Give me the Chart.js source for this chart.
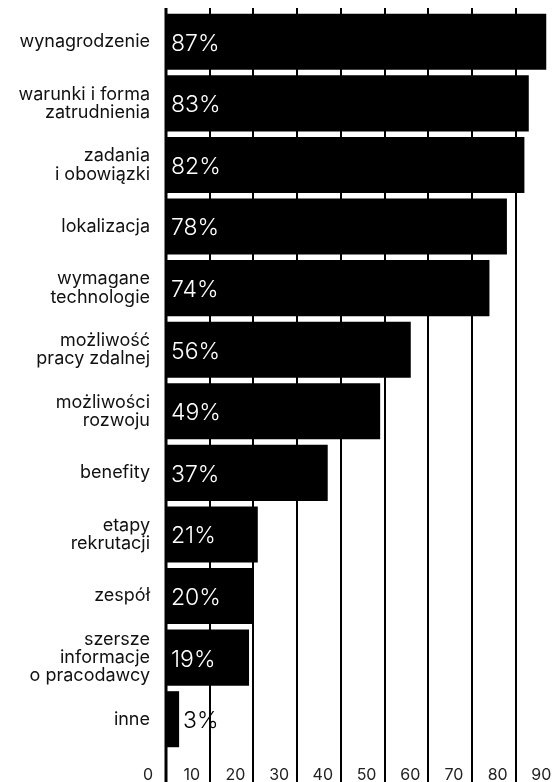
<!DOCTYPE html>
<html>
<head>
<meta charset="utf-8">
<script src="https://cdn.jsdelivr.net/npm/chart.js@4.4.0/dist/chart.umd.min.js"></script>
<style>
  html, body { margin: 0; padding: 0; background: #fff; }
</style>
</head>
<body>
<canvas id="myBarChart" width="555" height="782"></canvas>
<script>
var kategorie = [
  'wynagrodzenie',
  ['warunki i forma', 'zatrudnienia'],
  ['zadania', 'i obowiązki'],
  'lokalizacja',
  ['wymagane', 'technologie'],
  ['możliwość', 'pracy zdalnej'],
  ['możliwości', 'rozwoju'],
  'benefity',
  ['etapy', 'rekrutacji'],
  'zespół',
  ['szersze', 'informacje', 'o pracodawcy'],
  'inne'
];
var wartosci = [87, 83, 82, 78, 74, 56, 49, 37, 21, 20, 19, 3];
var osX = [0, 10, 20, 30, 40, 50, 60, 70, 80, 90];

var czcionka = 'Inter, "DejaVu Sans", sans-serif';

// pionowe linie siatki od gory az do dolu plotna
var siatka = {
  id: 'siatka',
  beforeDatasetsDraw: function(chart) {
    var ctx = chart.ctx, x = chart.scales.x, a = chart.chartArea;
    ctx.save();
    ctx.strokeStyle = '#000';
    ctx.lineWidth = 2;
    osX.forEach(function(v) {
      if (v === 0) return;
      var px = Math.round(x.getPixelForValue(v));
      ctx.beginPath();
      ctx.moveTo(px, a.top - 3);
      ctx.lineTo(px, chart.height);
      ctx.stroke();
    });
    ctx.restore();
  },
  afterDatasetsDraw: function(chart) {
    var ctx = chart.ctx, x = chart.scales.x, a = chart.chartArea;
    var px = x.getPixelForValue(0);
    ctx.save();
    ctx.fillStyle = '#000';
    ctx.fillRect(px - 1.5, a.top - 3, 3, chart.height);
    ctx.restore();
  }
};

// etykiety z procentami
var etykiety = {
  id: 'etykiety',
  afterDatasetsDraw: function(chart) {
    var ctx = chart.ctx;
    var meta = chart.getDatasetMeta(0);
    ctx.save();
    ctx.font = '300 23px ' + czcionka;
    ctx.textBaseline = 'middle';
    ctx.textAlign = 'left';
    meta.data.forEach(function(bar, i) {
      var txt = wartosci[i] + '%';
      var w = ctx.measureText(txt).width;
      if (bar.x - bar.base > w + 12) {
        ctx.fillStyle = '#fff';
        ctx.fillText(txt, bar.base + 5, bar.y + 2);
      } else {
        ctx.fillStyle = '#000';
        ctx.fillText(txt, bar.x + 4, bar.y + 2);
      }
    });
    ctx.restore();
  }
};

var ctx = document.getElementById('myBarChart').getContext('2d');
var myBar = new Chart(ctx, {
  type: 'bar',
  data: {
    labels: kategorie,
    datasets: [{
      label: 'Valor',
      data: wartosci,
      backgroundColor: '#000',
      borderWidth: 0,
      barPercentage: 0.91,
      categoryPercentage: 1
    }]
  },
  plugins: [siatka, etykiety],
  options: {
    indexAxis: 'y',
    responsive: false,
    animation: false,
    devicePixelRatio: 1,
    layout: { padding: { top: 11, right: 0, left: 0, bottom: 0 } },
    plugins: {
      legend: { display: false },
      tooltip: { enabled: false }
    },
    scales: {
      x: {
        min: 0,
        max: 89,
        grid: { display: false },
        border: { display: false },
        afterBuildTicks: function(scale) {
          scale.ticks = osX.map(function(v) { return { value: v }; });
        },
        afterFit: function(scale) {
          scale.height = 32;
          scale.paddingLeft = 0;
          scale.paddingRight = 0;
        },
        ticks: {
          autoSkip: false,
          maxRotation: 0,
          labelOffset: -18,
          padding: 8,
          color: '#222',
          font: { family: czcionka, size: 16 },
          callback: function(v) { return v; }
        }
      },
      y: {
        grid: { display: false },
        border: { display: false },
        afterFit: function(scale) {
          scale.width = 166;
          scale.paddingTop = 0;
          scale.paddingBottom = 0;
        },
        ticks: {
          padding: 8,
          color: '#111',
          font: { family: czcionka, size: 18, lineHeight: 1.02 }
        }
      }
    }
  }
});
</script>
</body>
</html>
